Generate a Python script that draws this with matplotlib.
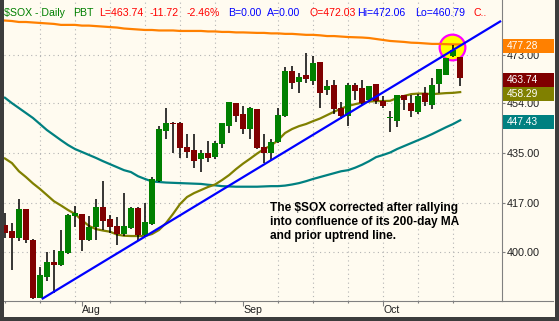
import matplotlib.pyplot as plt
from matplotlib.transforms import blended_transform_factory, ScaledTranslation, IdentityTransform
from matplotlib.patches import Rectangle
from matplotlib.lines import Line2D
from matplotlib.ticker import NullLocator

plt.rcParams['font.family'] = ['Liberation Sans', 'DejaVu Sans']

# daily candles
opens = [409.2, 407.2, 404.6, 414.7, 404.2, 384.6, 391.5, 396.4, 395.5, 399.7,
         412.4, 413.1, 404.0, 408.6, 415.4, 411.2, 408.8, 406.0, 408.3, 415.3,
         405.7, 409.5, 424.9, 443.4, 446.5, 446.5, 437.2, 436.2, 432.9, 435.0,
         433.7, 438.3, 445.3, 453.9, 449.8, 444.1, 451.6, 437.2, 435.3, 439.3,
         449.0, 466.6, 462.3, 465.0, 462.7, 470.0, 459.1, 461.0, 452.3, 449.0,
         461.0, 460.0, 455.2, 461.4, 454.9, 448.1, 447.2, 457.2, 453.9, 450.6,
         457.8, 453.2, 461.4, 465.0, 472.6, 472.03]
highs = [413.5, 410.0, 418.3, 414.9, 404.4, 394.9, 399.8, 400.6, 407.5, 413.0,
         415.9, 413.2, 412.3, 418.3, 424.8, 412.7, 411.9, 420.6, 415.6, 415.4,
         416.8, 426.2, 445.3, 452.3, 446.6, 446.6, 442.2, 442.2, 436.2, 439.5,
         439.5, 446.5, 454.4, 454.0, 452.8, 452.4, 451.7, 442.2, 440.5, 452.3,
         468.3, 468.6, 465.7, 473.7, 472.6, 470.1, 463.0, 463.0, 454.5, 462.0,
         462.0, 463.0, 460.7, 461.5, 456.8, 451.0, 457.3, 457.3, 457.2, 457.6,
         460.4, 463.7, 467.5, 472.0, 477.0, 472.06]
lows = [404.8, 394.0, 403.7, 403.1, 384.1, 384.4, 390.1, 386.2, 395.2, 399.3,
        408.6, 400.4, 403.8, 404.2, 407.5, 406.6, 402.3, 405.4, 408.0, 403.8,
        405.4, 409.3, 424.6, 440.5, 435.2, 433.3, 433.3, 429.6, 428.2, 431.9,
        432.8, 436.8, 442.7, 446.6, 442.2, 440.3, 436.5, 431.5, 432.5, 438.9,
        448.5, 459.4, 458.0, 462.0, 461.0, 452.2, 457.2, 450.0, 447.8, 445.2,
        455.2, 453.2, 454.5, 453.6, 452.2, 443.1, 444.9, 451.3, 448.8, 449.8,
        452.9, 451.7, 457.8, 464.9, 472.3, 460.79]
closes = [406.3, 404.8, 414.7, 404.0, 384.6, 392.1, 396.4, 395.5, 400.3, 412.7,
          413.3, 404.0, 408.6, 415.4, 410.7, 408.4, 406.1, 408.8, 415.3, 405.7,
          410.3, 425.6, 444.1, 446.5, 445.9, 436.8, 435.6, 432.2, 435.0, 433.3,
          438.7, 446.3, 454.3, 449.1, 444.1, 452.3, 436.8, 435.3, 439.3, 449.4,
          466.6, 462.0, 464.3, 463.4, 469.7, 458.0, 460.6, 451.7, 449.0, 461.0,
          458.7, 453.9, 460.6, 454.8, 452.9, 448.8, 457.2, 455.2, 450.9, 456.9,
          454.5, 461.0, 467.4, 471.9, 475.0, 463.74]

# moving averages
ma200 = [487.1, 486.9, 486.5, 486.5, 486.3, 486.1, 485.9, 485.7, 485.3, 485.3,
         485.3, 485.0, 485.0, 484.8, 484.6, 484.4, 484.2, 483.8, 483.6, 483.4,
         483.2, 483.2, 483.0, 483.0, 483.0, 482.8, 482.8, 482.8, 482.8, 482.6,
         482.6, 482.4, 482.4, 482.2, 482.2, 482.1, 482.0, 482.0, 481.8, 481.8,
         481.6, 481.6, 481.4, 481.2, 481.2, 481.0, 480.7, 480.7, 480.5, 480.3,
         480.2, 480.1, 479.9, 479.5, 479.1, 478.7, 478.5, 478.3, 478.0, 477.9,
         477.7, 477.5, 477.5, 477.4, 477.3, 477.28]
ma50 = [456.1, 454.0, 452.1, 450.2, 448.3, 446.0, 443.7, 441.8, 439.9, 438.1,
        436.6, 435.5, 434.4, 433.3, 432.1, 431.0, 429.9, 428.8, 428.1, 426.6,
        425.6, 424.7, 424.5, 424.3, 424.2, 424.1, 424.0, 423.9, 423.8, 423.5,
        423.3, 423.0, 422.9, 422.8, 422.8, 422.8, 422.8, 422.9, 423.0, 423.0,
        423.2, 423.6, 424.1, 424.8, 425.6, 426.3, 427.0, 427.7, 428.4, 428.8,
        429.7, 430.8, 432.1, 433.6, 434.4, 435.3, 436.6, 437.7, 438.8, 439.9,
        441.0, 442.2, 443.5, 444.8, 446.0, 447.43]
ma20 = [433.1, 431.4, 428.4, 426.3, 424.0, 422.0, 419.8, 417.6, 416.1, 414.5,
        413.1, 410.9, 408.9, 407.8, 407.3, 406.9, 405.9, 405.5, 405.4, 405.4,
        405.4, 406.1, 407.5, 409.9, 413.1, 416.6, 419.1, 420.5, 421.6, 422.7,
        423.6, 425.2, 427.0, 429.2, 431.2, 433.0, 434.9, 436.6, 437.9, 439.9,
        442.6, 444.1, 445.2, 446.0, 447.1, 448.1, 449.4, 450.7, 451.9, 452.9,
        453.6, 454.2, 454.6, 454.8, 454.8, 454.9, 456.0, 456.8, 457.5, 457.7,
        457.7, 457.5, 457.7, 457.9, 458.0, 458.29]

# uptrend line end points (bar index, price)
trend_x = [5.4, 70.7]
trend_y = [384.4, 486.7]

month_idx = [11, 34, 54]
month_names = ["Aug", "Sep", "Oct"]
week_idx = [0, 5, 10, 15, 20, 25, 30, 39, 44, 49, 59, 64]
grid_idx = [5, 10, 15, 20, 25, 30, 39, 44, 49, 54, 59, 64]
yticks = [400, 417, 435, 454, 473]

last_labels = [("477.28", 477.28, "#ff8000"), ("463.74", 463.74, "#800000"),
               ("458.29", 458.29, "#808000"), ("447.43", 447.43, "#008080")]

BG = "#fffbf0"
fig = plt.figure(figsize=(5.59, 3.21), dpi=100, facecolor=BG)
ax = fig.add_axes([4 / 559, 20 / 321, 498 / 559, 301 / 321])
ax.set_facecolor(BG)
ax.set_yscale("log")
ax.set_xlim(-0.13, 70.97)
ax.set_ylim(383.57, 495.7)

# grid
for g in grid_idx:
    ax.axvline(g, color="#b4b4b4", lw=0.8, ls=(0, (1, 3)), zorder=0)
for t in yticks:
    ax.axhline(t, color="#b4b4b4", lw=0.8, ls=(0, (1, 3)), zorder=0)

# highlight circle
ax.plot([63.9], [476.4], marker="o", ms=18.5, mfc="#ffff00", mec="#ff00ff", mew=1.6, zorder=1)

# candles
idx = list(range(len(opens)))
for i in idx:
    o, h, l, c = opens[i], highs[i], lows[i], closes[i]
    col = "#008000" if c >= o else "#800000"
    ax.vlines(i, l, h, color="black", lw=1.1, zorder=3)
    ax.bar(i, abs(c - o) if abs(c - o) > 0.3 else 0.3, bottom=min(o, c), width=0.78,
           color=col, linewidth=0, zorder=4)

ax.plot(idx, ma200, color="#ff8000", lw=1.6, zorder=2)
ax.plot(idx, ma50, color="#008080", lw=1.6, zorder=2)
ax.plot(idx, ma20, color="#808000", lw=1.6, zorder=2)
ax.plot(trend_x, trend_y, color="#0000ff", lw=1.6, zorder=5)

# axes styling
for s in ["left", "top"]:
    ax.spines[s].set_visible(False)
for s in ["right", "bottom"]:
    ax.spines[s].set_color("#808080")
    ax.spines[s].set_linewidth(0.8)

ax.yaxis.tick_right()
ax.set_yticks(yticks, labels=[f"{t:.2f}" for t in yticks])
ax.yaxis.set_minor_locator(NullLocator())
ax.tick_params(axis="y", direction="out", length=2.5, width=0.8, color="#808080",
               labelsize=7.8, labelcolor="#202020", pad=1)

ax.set_xticks(month_idx, labels=month_names)
ax.set_xticks(week_idx, minor=True)
ax.tick_params(axis="x", which="major", direction="out", length=3.6, width=0.8, color="#808080",
               labelsize=7.6, labelcolor="#202020", pad=-0.5)
ax.tick_params(axis="x", which="minor", direction="out", length=1.6, width=0.8, color="#808080")
for lab in ax.get_xticklabels():
    lab.set_horizontalalignment("left")

# bottom axis line runs on under the price scale
fig.add_artist(Line2D([502 / 559, 553 / 559], [20 / 321, 20 / 321], color="#808080", lw=0.8))

# last-value boxes on the price scale
base = blended_transform_factory(ax.transAxes, ax.transData)
for txt, val, col in last_labels:
    off = IdentityTransform() + ScaledTranslation(1.0, val, base)
    ax.add_patch(Rectangle((1, -8.7), 51, 14, transform=off, facecolor=col,
                           edgecolor="none", clip_on=False, zorder=6))
    ax.text(5, -1.7, txt, transform=off, color="white", fontsize=7.4,
            va="center", ha="left", clip_on=False, zorder=7)

# annotation
ax.text(37.9, 417.4, "The $SOX corrected after rallying\ninto confluence of its 200-day MA\nand prior uptrend line.",
        fontsize=8.6, fontweight="bold", color="black", va="top", ha="left", linespacing=1.22, zorder=8)

# header
header = [("$SOX - Daily", 4, "#008000"), ("PBT", 73, "#008000"), ("L=463.74", 99, "#ff0000"),
          ("-11.72", 150, "#ff0000"), ("-2.46%", 187, "#ff0000"), ("B=0.00", 228, "#0000ff"),
          ("A=0.00", 267, "#0000ff"), ("O=472.03", 309, "#ff0000"), ("Hi=472.06", 357, "#0000ff"),
          ("Lo=460.79", 415, "#0000ff"), ("C..", 473, "#ff0000")]
for txt, px, col in header:
    fig.text(px / 559, (321 - 15.5) / 321, txt, color=col, fontsize=7.6, va="baseline", ha="left", zorder=9)

# dark frame
frame = "#3c3c3c"
for (x0, y0, w, h) in [(0, 0, 4, 321), (0, 0, 559, 4), (555, 0, 4, 321)]:
    fig.patches.append(Rectangle((x0 / 559, y0 / 321), w / 559, h / 321, transform=fig.transFigure,
                                 facecolor=frame, edgecolor="none", zorder=10))

fig.savefig("out.png", dpi=100, facecolor=BG)
